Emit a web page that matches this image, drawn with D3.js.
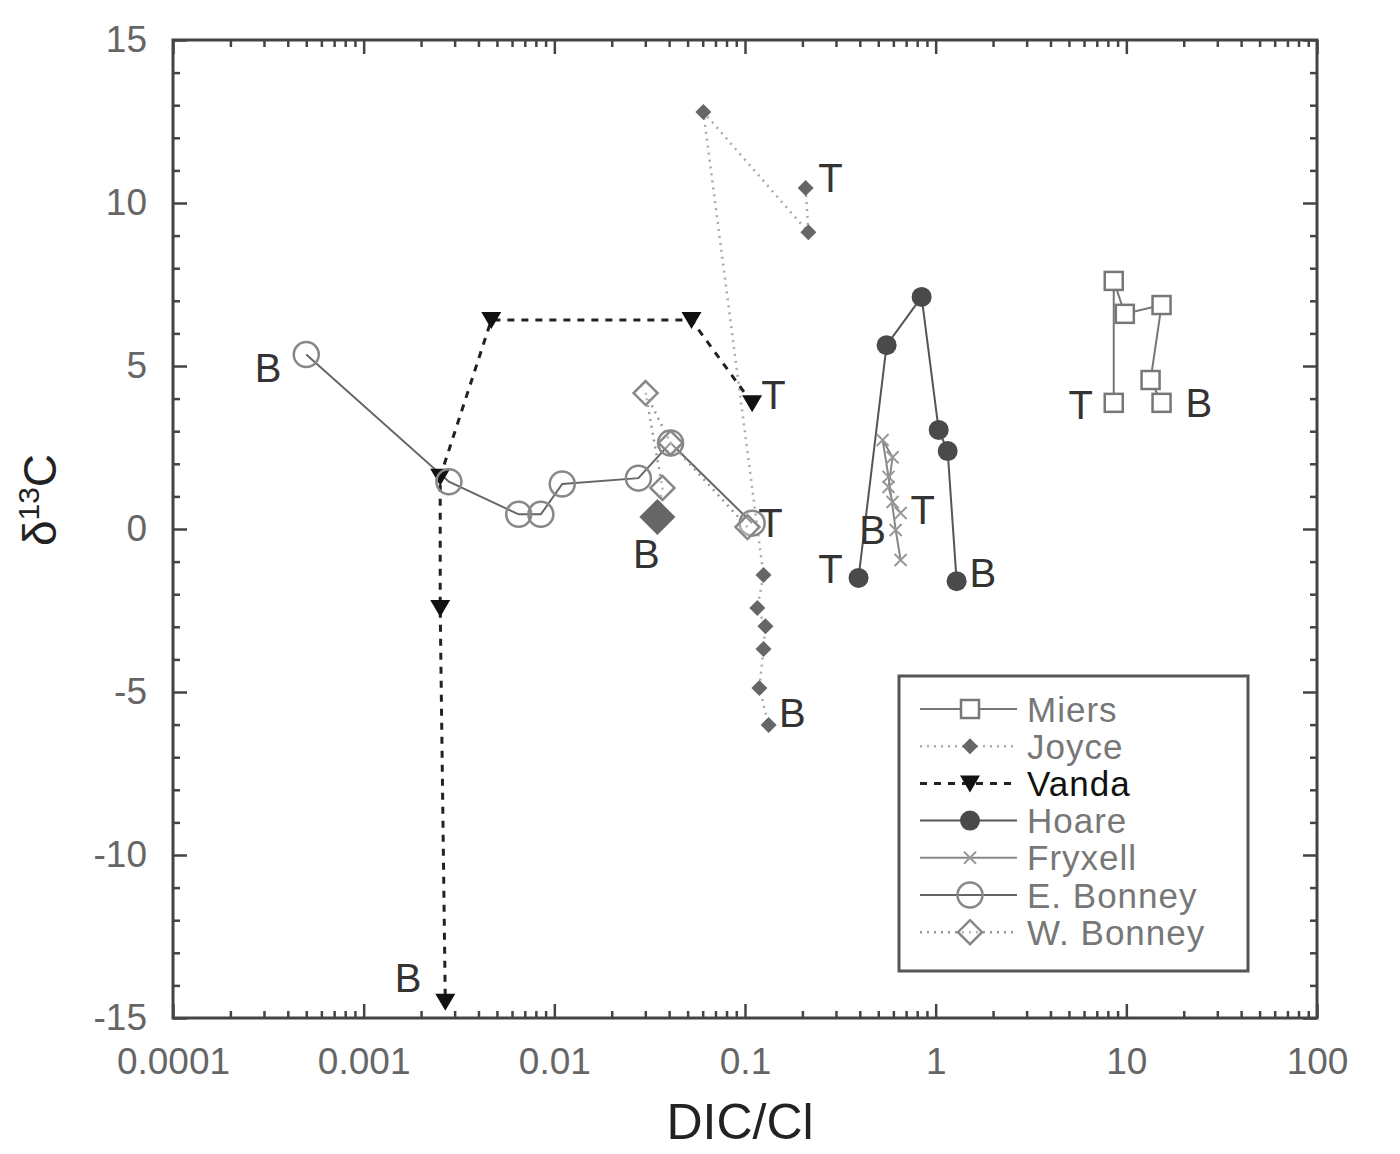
<!DOCTYPE html>
<meta charset="UTF-8">
<script src="https://d3js.org/d3.v7.min.js"></script>
<style>
body { margin: 0; background: #fff; }
text { font-family: "Liberation Sans", Arial, sans-serif; }
</style>
<div id="my_dataviz"></div>
<script>

// data: [DIC/Cl, d13C], listed from top (T) to bottom (B)
var miers    = [[8.59, 3.87], [8.59, 7.61], [9.82, 6.6], [15.3, 6.87], [13.4, 4.57], [15.3, 3.87]]
var joyce    = [[0.208, 10.46], [0.215, 9.1], [0.0605, 12.79], [0.125, -1.41], [0.116, -2.42],
                [0.128, -2.98], [0.125, -3.68], [0.119, -4.88], [0.133, -6.01]]
var vanda    = [[0.109, 3.86], [0.0524, 6.41], [0.00467, 6.41], [0.00252, 1.6], [0.00252, -2.42], [0.00268, -14.5]]
var hoare    = [[0.394, -1.5], [0.553, 5.64], [0.844, 7.12], [1.037, 3.04], [1.156, 2.39], [1.288, -1.6]]
var fryxell  = [[0.655, 0.49], [0.594, 0.83], [0.566, 1.29], [0.594, 2.2], [0.527, 2.73],
                [0.566, 1.6], [0.617, -0.03], [0.655, -0.95]]
var eBonney  = [[0.109, 0.18], [0.0407, 2.64], [0.0276, 1.56], [0.011, 1.38], [0.0085, 0.45],
                [0.0065, 0.45], [0.0028, 1.45], [0.0005, 5.35]]
var wBonney  = [[0.103, 0.06], [0.0407, 2.64], [0.0301, 4.17], [0.0369, 1.26], [0.0347, 0.37]]

var seriesNames = ["Miers", "Joyce", "Vanda", "Hoare", "Fryxell", "E. Bonney", "W. Bonney"]

// T / B annotations: [text, DIC/Cl, d13C]
var notes = [["B", 0.000315, 4.94], ["B", 0.00171, -13.77], ["T", 0.141, 4.11], ["T", 0.281, 10.77],
             ["B", 0.177, -5.64], ["B", 0.0304, -0.74], ["T", 0.136, 0.21], ["T", 0.281, -1.23],
             ["B", 0.467, -0.03], ["T", 0.855, 0.58], ["B", 1.766, -1.35], ["T", 5.77, 3.83], ["B", 24.0, 3.87]]

var xMajor = [0.0001, 0.001, 0.01, 0.1, 1, 10, 100]
var xLabels = ["0.0001", "0.001", "0.01", "0.1", "1", "10", "100"]
var yMajor = [-15, -10, -5, 0, 5, 10, 15]

var width = 1400
var height = 1154
var pLeft = 173, pRight = 1317, pTop = 40, pBottom = 1018

var svg = d3.select("#my_dataviz").append("svg")
    .attr("width", width)
    .attr("height", height)

var x = d3.scaleLog().domain([0.0001, 100]).range([pLeft, pRight])
var y = d3.scaleLinear().domain([-15, 15]).range([pBottom, pTop])

// minor ticks
var xMinor = []
xMajor.slice(0, -1).forEach(function(d){ for (var k = 2; k < 10; k++) xMinor.push(d * k) })
var yMinor = d3.range(-15, 16).filter(function(d){ return d % 5 != 0 })

var axisColor = "#444"
var labelColor = "#666"

function styleAxis(g) {
    g.select(".domain").remove()
    g.selectAll("line").attr("stroke", axisColor).attr("stroke-width", 2.5)
    g.selectAll("text").attr("fill", labelColor).style("font-size", "37px")
}

// bottom
svg.append("g").attr("transform", "translate(0," + pBottom + ")")
    .call(d3.axisBottom(x).tickValues(xMajor).tickSize(-14).tickPadding(30)
        .tickFormat(function(d, i){ return xLabels[i] }))
    .call(styleAxis)
svg.append("g").attr("transform", "translate(0," + pBottom + ")")
    .call(d3.axisBottom(x).tickValues(xMinor).tickSize(-7).tickFormat(""))
    .call(styleAxis)
// top
svg.append("g").attr("transform", "translate(0," + pTop + ")")
    .call(d3.axisTop(x).tickValues(xMajor).tickSize(-14).tickFormat(""))
    .call(styleAxis)
svg.append("g").attr("transform", "translate(0," + pTop + ")")
    .call(d3.axisTop(x).tickValues(xMinor).tickSize(-7).tickFormat(""))
    .call(styleAxis)
// left
svg.append("g").attr("transform", "translate(" + pLeft + ",0)")
    .call(d3.axisLeft(y).tickValues(yMajor).tickSize(-14).tickPadding(26)
        .tickFormat(function(d){ return String(d) }))
    .call(styleAxis)
svg.append("g").attr("transform", "translate(" + pLeft + ",0)")
    .call(d3.axisLeft(y).tickValues(yMinor).tickSize(-7).tickFormat(""))
    .call(styleAxis)
// right
svg.append("g").attr("transform", "translate(" + pRight + ",0)")
    .call(d3.axisRight(y).tickValues(yMajor).tickSize(-14).tickFormat(""))
    .call(styleAxis)
svg.append("g").attr("transform", "translate(" + pRight + ",0)")
    .call(d3.axisRight(y).tickValues(yMinor).tickSize(-7).tickFormat(""))
    .call(styleAxis)

svg.append("rect")
    .attr("x", pLeft).attr("y", pTop)
    .attr("width", pRight - pLeft).attr("height", pBottom - pTop)
    .attr("fill", "none").attr("stroke", axisColor).attr("stroke-width", 3)

// axis titles
svg.append("text")
    .attr("x", (pLeft + pRight) / 2 - 5).attr("y", 1139)
    .attr("text-anchor", "middle")
    .attr("fill", "#222")
    .style("font-size", "50px")
    .text("DIC/Cl")

var yt = svg.append("text")
    .attr("transform", "translate(56,500) rotate(-90)")
    .attr("text-anchor", "middle")
    .attr("fill", "#222")
    .style("font-size", "46px")
yt.append("tspan").text("δ")
yt.append("tspan").attr("dy", -17).style("font-size", "30px").text("13")
yt.append("tspan").attr("dy", 17).text("C")

// series styles
var styles = {
    "Miers":     {data: miers,   line: "#777", dash: null,  width: 2,   marker: "square"},
    "Joyce":     {data: joyce,   line: "#aaa", dash: "2,5", width: 2.5, marker: "smalldiamond"},
    "Vanda":     {data: vanda,   line: "#222", dash: "7,7", width: 3,   marker: "triangle"},
    "Hoare":     {data: hoare,   line: "#555", dash: null,  width: 2,   marker: "dot"},
    "Fryxell":   {data: fryxell, line: "#888", dash: null,  width: 2,   marker: "cross"},
    "E. Bonney": {data: eBonney, line: "#666", dash: null,  width: 2,   marker: "circle"},
    "W. Bonney": {data: wBonney, line: "#999", dash: "2,5", width: 2.5, marker: "diamond"}
}

function diamondPath(h) {
    return "M0," + (-h) + "L" + h + ",0L0," + h + "L" + (-h) + ",0Z"
}

function drawMarker(g, kind, cx, cy, big) {
    var t = "translate(" + cx + "," + cy + ")"
    if (kind == "square") {
        g.append("rect").attr("x", cx - 9).attr("y", cy - 9).attr("width", 18).attr("height", 18)
            .attr("fill", "#fff").attr("stroke", "#777").attr("stroke-width", 2.5)
    } else if (kind == "smalldiamond") {
        g.append("path").attr("d", diamondPath(8)).attr("transform", t).attr("fill", "#666")
    } else if (kind == "triangle") {
        g.append("path").attr("d", "M-10,-8L10,-8L0,9Z").attr("transform", t).attr("fill", "#111")
    } else if (kind == "dot") {
        g.append("circle").attr("cx", cx).attr("cy", cy).attr("r", 10).attr("fill", "#4a4a4a")
    } else if (kind == "cross") {
        g.append("path").attr("d", "M-6,-6L6,6M-6,6L6,-6").attr("transform", t)
            .attr("stroke", "#999").attr("stroke-width", 2)
    } else if (kind == "circle") {
        g.append("circle").attr("cx", cx).attr("cy", cy).attr("r", 12.5)
            .attr("fill", "none").attr("stroke", "#888").attr("stroke-width", 2.5)
    } else if (kind == "diamond") {
        if (big) {
            g.append("path").attr("d", diamondPath(18)).attr("transform", t).attr("fill", "#666")
        } else {
            g.append("path").attr("d", diamondPath(12)).attr("transform", t)
                .attr("fill", "#fff").attr("fill-opacity", 0.3).attr("stroke", "#888").attr("stroke-width", 2.5)
        }
    }
}

var line = d3.line().x(function(d){ return x(d[0]) }).y(function(d){ return y(d[1]) })

seriesNames.forEach(function(name){
    var s = styles[name]
    svg.append("path").datum(s.data)
        .attr("d", line)
        .attr("fill", "none")
        .attr("stroke", s.line)
        .attr("stroke-width", s.width)
        .attr("stroke-dasharray", s.dash)
})
seriesNames.forEach(function(name){
    var s = styles[name]
    var g = svg.append("g")
    s.data.forEach(function(d, i){
        drawMarker(g, s.marker, x(d[0]), y(d[1]), name == "W. Bonney" && i == s.data.length - 1)
    })
})

// T / B notes
svg.append("g").selectAll("text")
    .data(notes)
    .enter()
    .append("text")
        .attr("x", function(d){ return x(d[1]) })
        .attr("y", function(d){ return y(d[2]) })
        .attr("dy", "0.36em")
        .attr("text-anchor", "middle")
        .attr("fill", "#333")
        .style("font-size", "40px")
        .text(function(d){ return d[0] })

// legend
var lg = svg.append("g")
lg.append("rect")
    .attr("x", 899).attr("y", 676).attr("width", 349).attr("height", 295)
    .attr("fill", "#fff").attr("stroke", "#555").attr("stroke-width", 3)
seriesNames.forEach(function(name, i){
    var s = styles[name]
    var ly = 709 + i * 37.2
    lg.append("line")
        .attr("x1", 920).attr("x2", 1017).attr("y1", ly).attr("y2", ly)
        .attr("stroke", s.line).attr("stroke-width", s.width)
        .attr("stroke-dasharray", s.dash)
    drawMarker(lg, s.marker, 970, ly, false)
    lg.append("text")
        .attr("x", 1027).attr("y", ly).attr("dy", "0.36em")
        .attr("fill", name == "Vanda" ? "#111" : "#777")
        .style("font-size", "35px")
        .style("letter-spacing", "1px")
        .text(name)
})

</script>
